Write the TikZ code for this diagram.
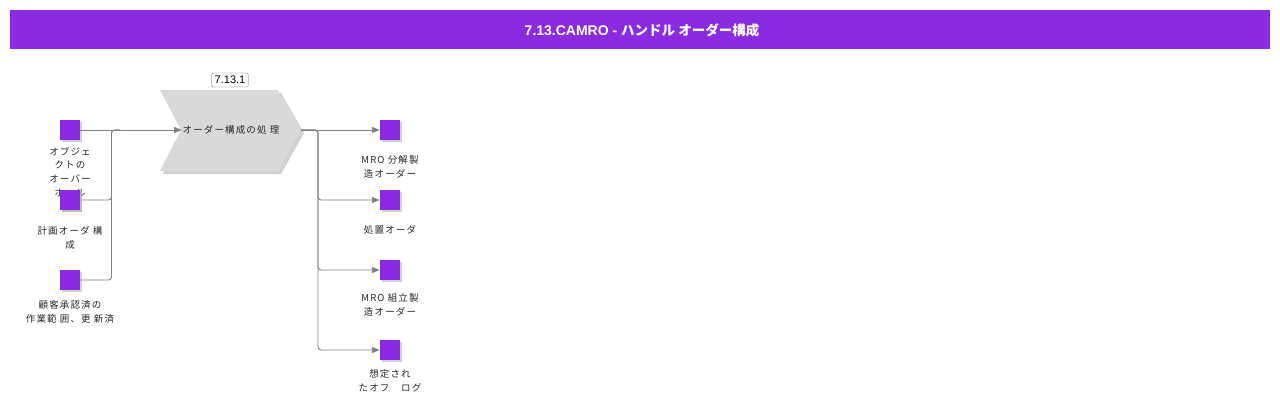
\documentclass[tikz,border=0pt]{standalone}
\usepackage{fontspec}
\setmainfont{Liberation Sans}
\newfontfamily\jp[LetterSpace=12]{Noto Sans CJK JP}
\newfontfamily\jpt{Noto Sans CJK JP}
\usetikzlibrary{shadows,arrows.meta}
\definecolor{hdr}{HTML}{8A2BE2}
\definecolor{sq}{HTML}{8A2BE2}
\definecolor{chev}{HTML}{D9D9D9}
\definecolor{conn}{HTML}{808080}
\tikzset{
  objbox/.style={draw=none,fill=sq,minimum size=20pt,inner sep=0pt,
    drop shadow={shadow xshift=2pt,shadow yshift=-2pt,fill=black!30,opacity=0.6}},
  lbl/.style={font=\jp\fontsize{9.5}{13.6}\selectfont,align=center,text=black!85,inner sep=0pt},
  conline/.style={draw=conn,line width=0.9pt,rounded corners=3pt},
  arr/.style={conline,-{Triangle[length=8pt,width=6pt]}}
}
\begin{document}
\begin{tikzpicture}[x=1pt,y=-1pt]
\useasboundingbox (0,0) rectangle (1280,404);
% header
\node[fill=hdr,minimum width=1260pt,minimum height=39pt,inner sep=0pt,anchor=north west] (hdr) at (10,10) {};
\node[text=white,font=\bfseries\fontsize{14}{16}\selectfont] (title) at (642,30) {7.13.CAMRO - {\jpt\fontsize{13.5}{16}\selectfont ハンドル オーダー構成}};
% chevron
\fill[black!18] (163,93) -- (281,93) -- (304,133) -- (281,174) -- (163,174) -- (184,133) -- cycle;
\fill[chev] (160,90) -- (278,90) -- (301,130) -- (278,171) -- (160,171) -- (181,130) -- cycle;
\coordinate (pin) at (182,130);
\coordinate (pout) at (301,130);
\node[lbl,font=\jp\fontsize{9.5}{10}\selectfont] (proc) at (231,130) {オーダー構成の処 理};
\node[draw=black!60,fill=white,rounded corners=1.5pt,inner xsep=3pt,inner ysep=0pt,minimum height=14pt,font=\fontsize{11}{12}\selectfont] (num) at (230,80) {7.13.1};
% left objects
\node[objbox] (l1) at (70,130) {};
\node[lbl,anchor=north] (l1t) at (70,147) {オブジェ\\クトの\\オーバー\\ホール};
\node[objbox] (l2) at (70,200) {};
\node[lbl,anchor=north] (l2t) at (70,226.5) {計画オーダ 構\\成};
\node[objbox] (l3) at (70,280) {};
\node[lbl,anchor=north] (l3t) at (70,300.5) {顧客承認済の\\作業範 囲、更 新済};
% right objects
\node[objbox] (r1) at (390,130) {};
\node[lbl,anchor=north] (r1t) at (390,155.5) {MRO 分解製\\造オーダー};
\node[objbox] (r2) at (390,200) {};
\node[lbl,anchor=north] (r2t) at (390,225.5) {処置オーダ};
\node[objbox] (r3) at (390,270) {};
\node[lbl,anchor=north] (r3t) at (390,293.5) {MRO 組立製\\造オーダー};
\node[objbox] (r4) at (390,350) {};
\node[lbl,anchor=north] (r4t) at (390,369.5) {想定され\\たオフ　ログ};
% connectors left
\draw[arr] (l1.east) -- (pin);
\draw[conline] (l2.east) -- (111.5,200) -- (111.5,130) -- (120,130);
\draw[conline] (l3.east) -- (111.5,280) -- (111.5,130) -- (120,130);
% connectors right
\draw[arr] (pout) -- (r1.west);
\draw[arr] (pout) -- (318,130) -- (318,200) -- (r2.west);
\draw[arr] (pout) -- (318,130) -- (318,270) -- (r3.west);
\draw[arr] (pout) -- (318,130) -- (318,350) -- (r4.west);
% square drawn over overlapping label
\node[objbox] at (70,200) {};
\end{tikzpicture}
\end{document}
